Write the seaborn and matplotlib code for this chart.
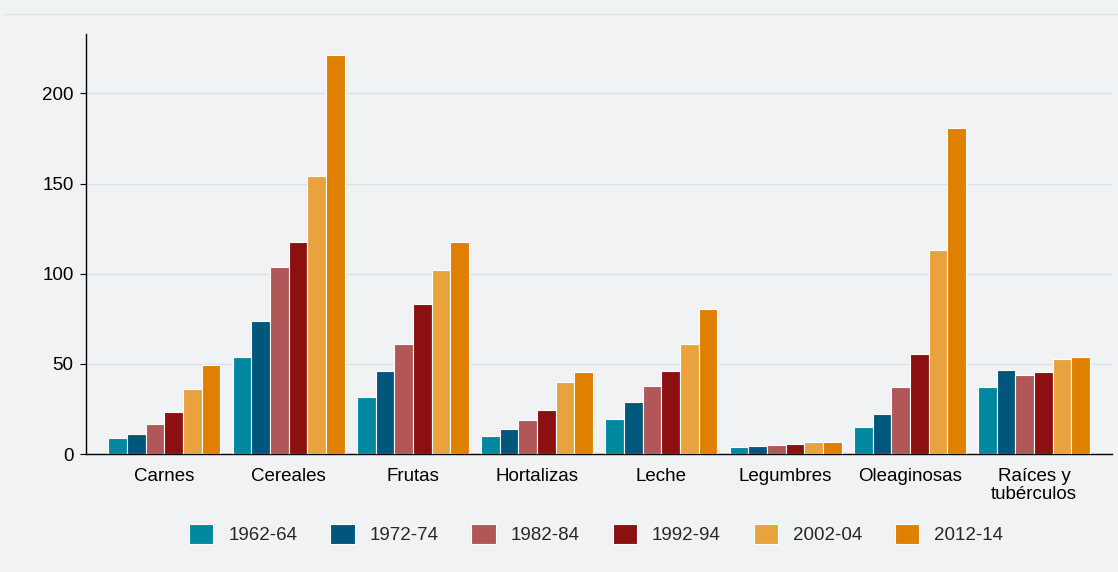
import pandas as pd
import matplotlib.pyplot as plt
import seaborn as sns

# Categories and periods
categorias = ["Carnes", "Cereales", "Frutas", "Hortalizas", "Leche",
              "Legumbres", "Oleaginosas", "Raíces y\ntubérculos"]
periodos = ["1962-64", "1972-74", "1982-84", "1992-94", "2002-04", "2012-14"]

# Values per period
v_1962 = [8.9, 53.6, 31.7, 10.0, 19.6, 3.7, 14.8, 37.1]
v_1972 = [11.0, 73.7, 46.0, 13.9, 29.0, 4.6, 22.5, 46.5]
v_1982 = [16.6, 103.6, 61.0, 19.0, 37.9, 5.2, 37.5, 43.8]
v_1992 = [23.3, 117.4, 83.0, 24.4, 46.0, 5.7, 55.4, 45.8]
v_2002 = [36.0, 154.0, 102.0, 39.9, 61.3, 6.5, 113.0, 53.0]
v_2012 = [49.3, 221.0, 117.4, 45.6, 80.3, 7.0, 180.6, 54.0]

colores = ["#00889F", "#00577B", "#B15757", "#8C1010", "#E8A33F", "#E08000"]

rows = []
for periodo, vals in zip(periodos, [v_1962, v_1972, v_1982, v_1992, v_2002, v_2012]):
    for cat, v in zip(categorias, vals):
        rows.append({"categoria": cat, "periodo": periodo, "valor": v})
df = pd.DataFrame(rows)

bg = "#F0F2F4"
sns.set_style("white")
plt.rcParams["font.family"] = ["Liberation Sans", "DejaVu Sans"]

fig = plt.figure(figsize=(11.18, 5.72), dpi=100, facecolor=bg)
ax = fig.add_axes([0.077, 0.206, 0.918, 0.734])
ax.set_facecolor(bg)

sns.barplot(data=df, x="categoria", y="valor", hue="periodo", order=categorias,
            hue_order=periodos, palette=colores, saturation=1, width=0.9, gap=0,
            edgecolor="white", linewidth=0.8, ax=ax, zorder=3)

ax.set_xlim(-0.63, 7.63)
ax.set_ylim(0, 232.7)
ax.set_yticks([0, 50, 100, 150, 200])
ax.yaxis.grid(True, color="#DCE3E8", linewidth=1, zorder=0)
ax.set_xlabel("")
ax.set_ylabel("")
ax.tick_params(axis="both", labelsize=13.5, colors="black")
ax.tick_params(axis="y", length=4, width=0.8, left=True, pad=5)
ax.tick_params(axis="x", length=0, pad=10)
for lbl in ax.get_xticklabels():
    lbl.set_linespacing(1.1)
for s in ["top", "right"]:
    ax.spines[s].set_visible(False)
for s in ["left", "bottom"]:
    ax.spines[s].set_color("black")
    ax.spines[s].set_linewidth(1)

# decorative line at the top
fig.add_artist(plt.Line2D([0.004, 1.0], [0.975, 0.975], color="#DCE3E3", linewidth=1))

ax.legend(loc="upper center", bbox_to_anchor=(0.497, -0.125), ncol=6, frameon=False,
          fontsize=13.5, handlelength=1.3, handleheight=1.3, handletextpad=0.8,
          columnspacing=1.75)

plt.savefig("out.png", dpi=100, facecolor=bg)
